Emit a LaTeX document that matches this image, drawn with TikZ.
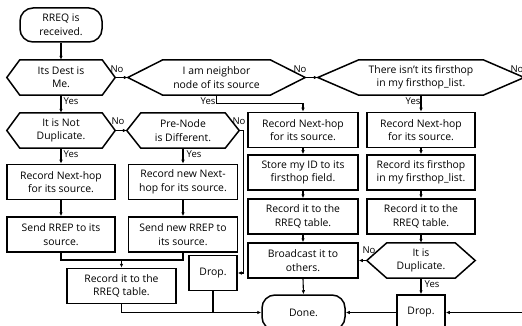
\documentclass[tikz,border=0pt]{standalone}
\usepackage{fontspec}
\setmainfont{Open Sans}
\usetikzlibrary{arrows.meta,calc}
\newcommand\myhex[5]{%
  \node[hexn, minimum width=#3] (#1) at (#2) {#5};
  \draw[shapeline] (#1.west) -- ($(#1.north west)+(#4,0)$) -- ($(#1.north east)+(-#4,0)$) -- (#1.east) -- ($(#1.south east)+(-#4,0)$) -- ($(#1.south west)+(#4,0)$) -- cycle;}
\begin{document}
\begin{tikzpicture}[x=1pt,y=-1pt,
  txt/.style={font=\fontsize{10.4}{13.5}\selectfont, align=center},
  shapeline/.style={line width=1.5pt, line join=miter},
  box/.style={txt, draw, line width=1.5pt, minimum width=#1, minimum height=35, inner sep=1pt},
  term/.style={txt, draw, line width=1.5pt, minimum width=#1, minimum height=35, inner sep=1pt, rounded corners=13pt},
  hexn/.style={txt, minimum height=35, inner sep=0pt},
  lbl/.style={font=\fontsize{9.5}{10}\selectfont, inner sep=0pt},
  line/.style={line width=1.1pt},
  conn/.style={line width=1.1pt, -{Latex[length=4pt,width=3.5pt]}}]
\useasboundingbox (0,0) rectangle (522,326);
\clip (0,0) rectangle (522,326);
% start
\node[term=82, minimum height=34] (start) at (61,25) {RREQ is\\received.};
% hexagons row 1
\myhex{h1}{61,77.5}{108}{13}{Its Dest is\\Me.}
\myhex{h2}{216.5,77.5}{177}{35}{I am neighbor\\node of its source}
\myhex{h3}{421,77.5}{206}{41}{There isn't its firsthop\\in my firsthop\_list.}
% row 2 hexagons
\myhex{h4}{61,130.5}{108}{13}{It is Not\\Duplicate.}
\myhex{h5}{183,130.5}{112}{14}{Pre-Node\\is Different.}
% left boxes
\node[box=108] (l1) at (61,182) {Record Next-hop\\for its source.};
\node[box=109] (l2) at (183,182) {Record new Next-\\hop for its source.};
\node[box=108] (l3) at (61,234.5) {Send RREP to its\\source.};
\node[box=109] (l4) at (183,234.5) {Send new RREP to\\its source.};
\node[box=109] (rec) at (121.5,286) {Record it to the\\RREQ table.};
\node[box=48] (dr1) at (213,273) {Drop.};
% middle column
\node[box=110] (m1) at (303,130) {Record Next-hop\\for its source.};
\node[box=110] (m2) at (303,172.5) {Store my ID to its\\firsthop field.};
\node[box=110] (m3) at (303,216.5) {Record it to the\\RREQ table.};
\node[box=110] (m4) at (303,260.5) {Broadcast it to\\others.};
% right column
\node[box=108] (r1) at (421,130) {Record Next-hop\\for its source.};
\node[box=108] (r2) at (421,172.5) {Record its firsthop\\in my firsthop\_list.};
\node[box=108] (r3) at (421,216.5) {Record it to the\\RREQ table.};
\myhex{h6}{421,260.5}{108}{20}{It is\\Duplicate.}
% bottom
\node[term=83] (done) at (303.5,312.5) {Done.};
\node[box=48] (d2) at (421,312.5) {Drop.};
\coordinate (offr) at (540,77.5);
\coordinate (j1) at (121.5,260);
% connectors
\draw[conn] (start.south) -- (h1.north);
\draw[conn] (h1.east) -- (h2.west);
\draw[conn] (h2.east) -- (h3.west);
\draw[conn] (h3.east) -- (offr) |- (d2.east);
\draw[conn] (h1.south) -- (h4.north);
\draw[conn] (h2.south) -- ++(0,8) -| (m1.north);
\draw[conn] (h3.south) -- (r1.north);
\draw[conn] (h4.east) -- (h5.west);
\draw[conn] (h4.south) -- (l1.north);
\draw[conn] (h5.south) -- (l2.north);
\draw[conn] (h5.east) -- ++(4,0) |- (dr1.east);
\draw[conn] (l1.south) -- (l3.north);
\draw[conn] (l2.south) -- (l4.north);
\draw[line] (l3.south) |- (j1) -| (l4.south);
\draw[conn] (j1) -- (rec.north);
\draw[conn] (rec.south) |- (done.west);
\draw[line] (dr1.south) -- (dr1.south |- done.west);
\draw[conn] (m1.south) -- (m2.north);
\draw[conn] (m2.south) -- (m3.north);
\draw[conn] (m3.south) -- (m4.north);
\draw[conn] (m4.south) -- (done.north);
\draw[conn] (r1.south) -- (r2.north);
\draw[conn] (r2.south) -- (r3.north);
\draw[conn] (r3.south) -- (h6.north);
\draw[conn] (h6.west) -- (m4.east);
\draw[conn] (h6.south) -- (d2.north);
\draw[conn] (d2.west) -- (done.east);
% labels
\node[lbl] (n1) at (117,69) {No};
\node[lbl] (n2) at (300,69) {No};
\node[lbl] (n3) at (517,69) {No};
\node[lbl] (n4) at (118,121) {No};
\node[lbl] (n5) at (239,121) {No};
\node[lbl] (n6) at (369,250) {No};
\node[lbl] (y1) at (71,101) {Yes};
\node[lbl] (y2) at (208,101) {Yes};
\node[lbl] (y3) at (413,101) {Yes};
\node[lbl] (y4) at (71,154) {Yes};
\node[lbl] (y5) at (194,154) {Yes};
\node[lbl] (y6) at (432,284) {Yes};
\end{tikzpicture}
\end{document}
